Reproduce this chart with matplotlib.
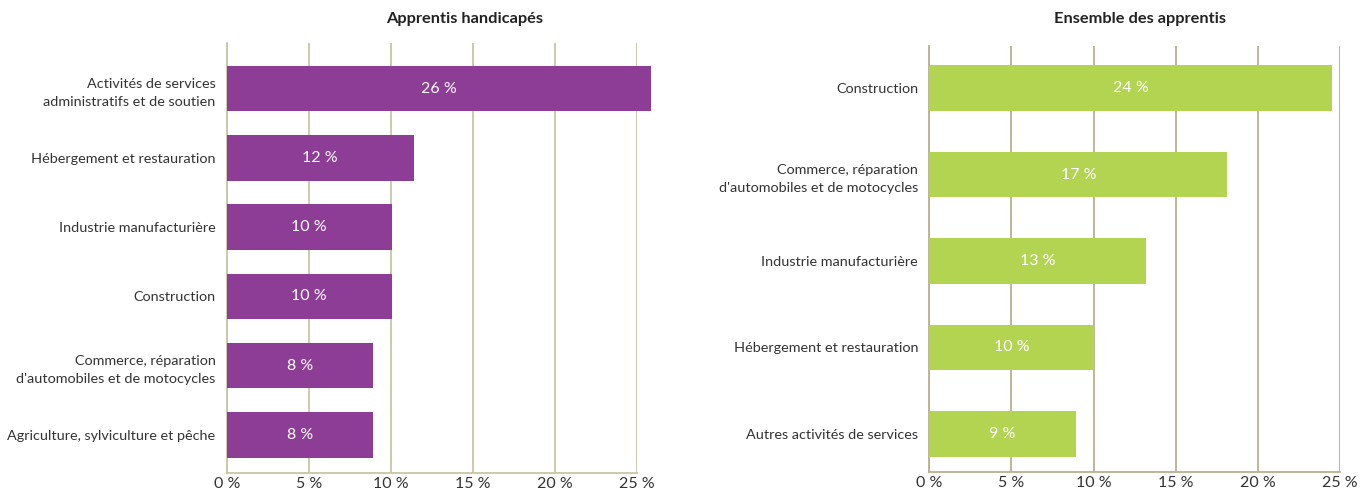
import matplotlib
matplotlib.use("Agg")
import matplotlib.pyplot as plt

plt.rcParams['font.family'] = ['Lato', 'DejaVu Sans']

left_title = "Apprentis handicapés"
left_cats = ["Activités de services\nadministratifs et de soutien",
             "Hébergement et restauration",
             "Industrie manufacturière",
             "Construction",
             "Commerce, réparation\nd'automobiles et de motocycles",
             "Agriculture, sylviculture et pêche"]
left_vals = [25.9, 11.4, 10.05, 10.05, 8.9, 8.9]
left_labels = ["26 %", "12 %", "10 %", "10 %", "8 %", "8 %"]

right_title = "Ensemble des apprentis"
right_cats = ["Construction",
              "Commerce, réparation\nd'automobiles et de motocycles",
              "Industrie manufacturière",
              "Hébergement et restauration",
              "Autres activités de services"]
right_vals = [24.5, 18.15, 13.2, 10.05, 8.93]
right_labels = ["24 %", "17 %", "13 %", "10 %", "9 %"]

xticks = [0, 5, 10, 15, 20, 25]
xticklabels = ["0 %", "5 %", "10 %", "15 %", "20 %", "25 %"]

W, H = 1370, 493
fig = plt.figure(figsize=(W / 100, H / 100), dpi=100)

text_col = "#333333"


def panel(rect, cats, vals, labels, color, height, top_pad, bot_pad, grid_col):
    ax = fig.add_axes(rect)
    n = len(cats)
    ys = list(range(n))
    ax.barh(ys, vals, height=height, color=color, clip_on=False, zorder=3)
    for y, v, lab in zip(ys, vals, labels):
        ax.text(v / 2, y, lab, ha="center", va="center", color="white",
                fontsize=11.5, zorder=4)
    ax.set_yticks(ys)
    ax.set_yticklabels(cats, fontsize=10.4, color=text_col, linespacing=1.6)
    ax.set_ylim(n - 1 + bot_pad, -top_pad)
    ax.set_xlim(0, 25)
    ax.set_xticks(xticks)
    ax.set_xticklabels(xticklabels, fontsize=11.5, color=text_col)
    ax.tick_params(axis="y", length=0, pad=8)
    ax.tick_params(axis="x", length=0, pad=3)
    for s in ["top", "right"]:
        ax.spines[s].set_visible(False)
    for s in ["left", "bottom"]:
        ax.spines[s].set_color(grid_col)
        ax.spines[s].set_linewidth(1.3)
    ax.grid(axis="x", color=grid_col, linewidth=1.3, zorder=0)
    ax.set_axisbelow(True)
    return ax


panel([226.7 / W, 1 - 473 / H, 410 / W, 430 / H], left_cats, left_vals, left_labels,
      "#8E3D96", 0.657, 0.657, 0.548, "#C9C5A6")
panel([929.3 / W, 1 - 472 / H, 410.7 / W, 426 / H], right_cats, right_vals, right_labels,
      "#B2D450", 0.528, 0.486, 0.44, "#B8B08E")

fig.text(465 / W, 1 - 19 / H, left_title, ha="center", va="center",
         fontsize=11.8, fontweight="bold", color="#222222")
fig.text(1140 / W, 1 - 19 / H, right_title, ha="center", va="center",
         fontsize=11.8, fontweight="bold", color="#222222")

fig.savefig("out.png", dpi=100)
